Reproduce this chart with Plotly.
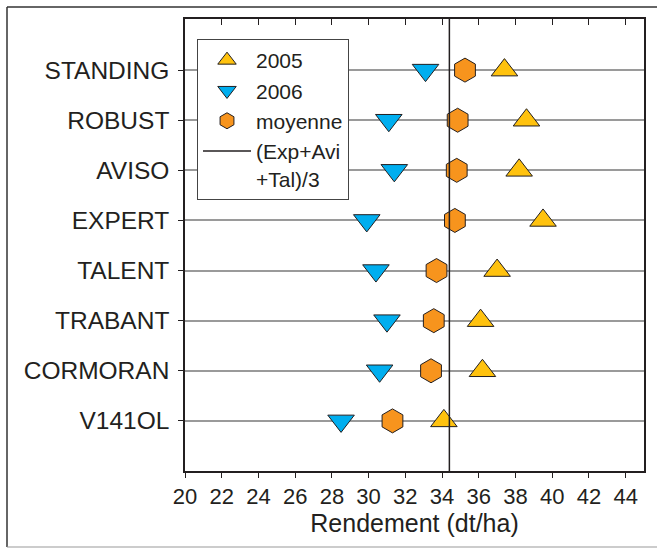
import plotly.graph_objects as go

varieties = ["STANDING", "ROBUST", "AVISO", "EXPERT", "TALENT", "TRABANT", "CORMORAN", "V141OL"]
y2005 = [37.4, 38.6, 38.2, 39.5, 37.0, 36.1, 36.2, 34.1]
y2006 = [33.1, 31.1, 31.4, 29.9, 30.4, 31.0, 30.6, 28.5]
moyenne = [35.25, 34.85, 34.8, 34.7, 33.7, 33.55, 33.4, 31.3]
ref_value = (moyenne[3] + moyenne[2] + moyenne[4]) / 3
x_ticks = list(range(20, 46, 2))

TXT = "#231F20"
FONT = "Liberation Sans, Arial, sans-serif"
W, H = 657, 549
L, R, T, B = 185, 13, 19, 78
pw, ph = W - L - R, H - T - B

def px_x(p):
    return (p - L) / pw

def px_y(p):
    return (H - B - p) / ph

fig = go.Figure()
fig.add_trace(go.Scatter(
    x=y2005, y=varieties, mode="markers", name="2005",
    marker=dict(symbol="triangle-up", size=23, color="#FFC20E",
                line=dict(color=TXT, width=1))))
fig.add_trace(go.Scatter(
    x=y2006, y=varieties, mode="markers", name="2006",
    marker=dict(symbol="triangle-down", size=23, color="#00AEEF",
                line=dict(color=TXT, width=1))))
fig.add_trace(go.Scatter(
    x=moyenne, y=varieties, mode="markers", name="moyenne",
    marker=dict(symbol="hexagon", size=24, color="#F7941D",
                line=dict(color=TXT, width=1))))
# dummy trace for top mirrored axis
fig.add_trace(go.Scatter(x=[None], y=[None], xaxis="x2", showlegend=False, hoverinfo="skip"))

fig.add_shape(type="line", x0=ref_value, x1=ref_value, xref="x", yref="paper", y0=0, y1=1,
              line=dict(color=TXT, width=1.5), layer="above",
              showlegend=True, name="(Exp+Avi<br>+Tal)/3")

# outer frame (top, left, bottom edges; right edge lies outside the picture)
fig.add_shape(type="line", x0=px_x(7), x1=px_x(W), y0=px_y(7), y1=px_y(7),
              xref="paper", yref="paper", line=dict(color="#333333", width=1.5), layer="below")
fig.add_shape(type="line", x0=px_x(7), x1=px_x(7), y0=px_y(7), y1=px_y(547),
              xref="paper", yref="paper", line=dict(color="#333333", width=1.5), layer="below")
fig.add_shape(type="line", x0=px_x(7), x1=px_x(W), y0=px_y(547), y1=px_y(547),
              xref="paper", yref="paper", line=dict(color="#999999", width=1.2), layer="below")

fig.update_layout(
    width=W, height=H,
    margin=dict(l=L, r=R, t=T, b=B),
    paper_bgcolor="white", plot_bgcolor="white",
    font=dict(family=FONT, color=TXT, size=22),
    xaxis=dict(range=[20, 45], tickvals=x_ticks, ticks="outside", ticklen=5,
               tickcolor=TXT, showline=True, linecolor=TXT, linewidth=1.5,
               showgrid=False, zeroline=False,
               tickfont=dict(size=22, color=TXT),
               title=dict(text="Rendement (dt/ha)", font=dict(size=25, color=TXT), standoff=6)),
    xaxis2=dict(range=[20, 45], tickvals=x_ticks, overlaying="x", side="top",
                ticks="inside", ticklen=6, tickcolor=TXT, showline=True,
                linecolor=TXT, linewidth=1.5, showticklabels=False, showgrid=False,
                zeroline=False),
    yaxis=dict(type="category", categoryarray=varieties[::-1], range=[-1, 8.02],
               ticks="outside", ticklen=5, tickcolor=TXT, showline=True,
               linecolor=TXT, linewidth=1.5, mirror=True,
               showgrid=True, gridcolor="#9A9A9A", gridwidth=1.5,
               tickfont=dict(size=24.5, color=TXT), ticklabelstandoff=4),
    legend=dict(x=px_x(197), y=px_y(39), xanchor="left", yanchor="top",
                bgcolor="white", bordercolor="#444444", borderwidth=1,
                font=dict(size=21, color=TXT), itemwidth=48, valign="top",
                tracegroupgap=0),
    showlegend=True,
)

fig.write_html("out.html", config={"displayModeBar": False},
               post_script="document.body.style.margin='0';document.body.style.overflow='hidden';")
